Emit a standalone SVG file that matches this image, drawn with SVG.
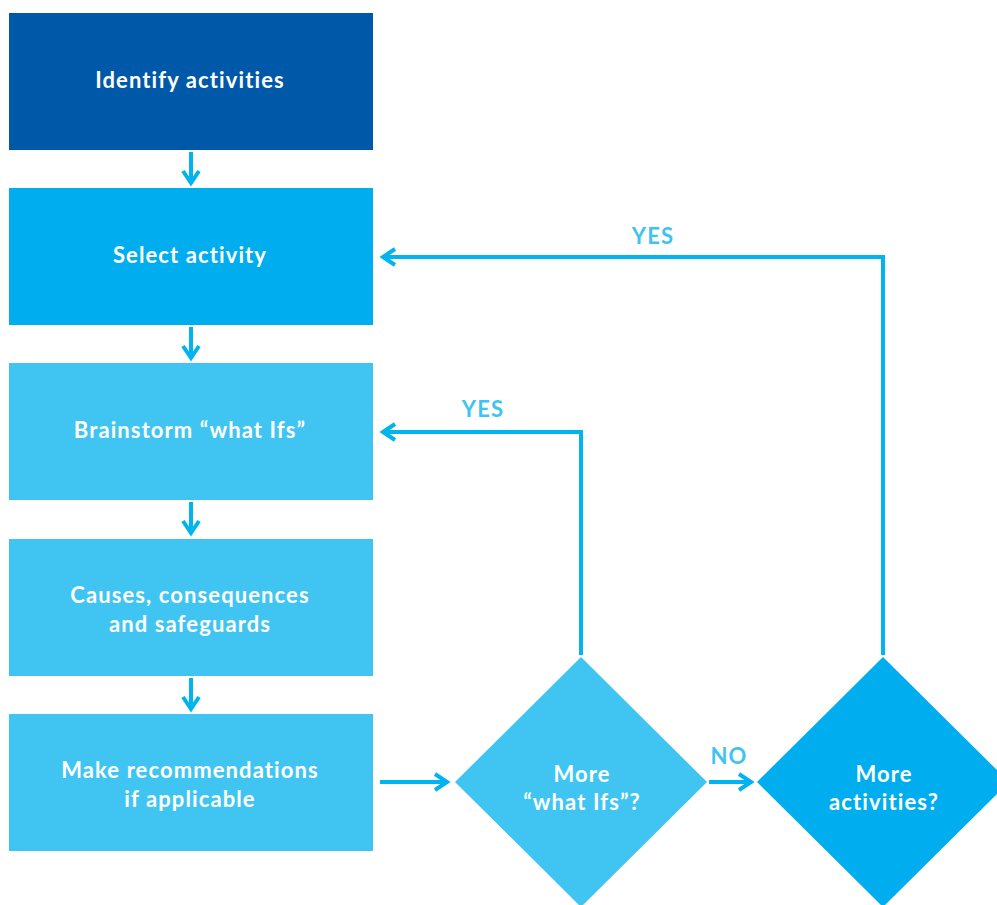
<svg xmlns="http://www.w3.org/2000/svg" width="997" height="905" viewBox="0 0 997 905">
<style>
.t{font-family:Lato,"Open Sans","Liberation Sans",sans-serif;font-weight:bold;font-size:22px;letter-spacing:1.1px;fill:#ffffff;text-anchor:middle}
.l{font-family:Lato,"Open Sans","Liberation Sans",sans-serif;font-weight:bold;font-size:22px;letter-spacing:1.1px;fill:#3fc3f2;text-anchor:middle}
.c{fill:none;stroke:#00b4ef;stroke-width:4}
</style>
<defs>
<marker id="ah" viewBox="0 0 10 10" refX="8" refY="5" markerWidth="5" markerHeight="5" markerUnits="strokeWidth" orient="auto">
<path d="M2,1 L8,5 L2,9" fill="none" stroke="#00b4ef" stroke-width="2"/>
</marker>
</defs>
<rect width="997" height="905" fill="#ffffff"/>
<g id="n1"><rect x="9" y="13" width="364" height="137" fill="#0059a8"/><text class="t" x="190" y="88">Identify activities</text></g>
<g id="n2"><rect x="9" y="188" width="364" height="137" fill="#00aeef"/><text class="t" x="190" y="263">Select activity</text></g>
<g id="n3"><rect x="9" y="363" width="364" height="137" fill="#40c5f3"/><text class="t" x="190" y="438">Brainstorm “what Ifs”</text></g>
<g id="n4"><rect x="9" y="539" width="364" height="137" fill="#40c5f3"/><text class="t" x="190" y="603">Causes, consequences</text><text class="t" x="190" y="632">and safeguards</text></g>
<g id="n5"><rect x="9" y="714" width="364" height="137" fill="#40c5f3"/><text class="t" x="190" y="778">Make recommendations</text><text class="t" x="190" y="807">if applicable</text></g>
<g id="d1"><polygon points="581,657 707,782 581,907 455,782" fill="#40c5f3"/><text class="t" x="582" y="782">More</text><text class="t" x="582" y="810">“what Ifs”?</text></g>
<g id="d2"><polygon points="883,657 1009,782 883,907 757,782" fill="#00aeef"/><text class="t" x="884" y="782">More</text><text class="t" x="884" y="810">activities?</text></g>
<g id="connectors">
<line class="c" x1="191" y1="152" x2="191" y2="183" marker-end="url(#ah)"/>
<line class="c" x1="191" y1="327" x2="191" y2="358" marker-end="url(#ah)"/>
<line class="c" x1="191" y1="502" x2="191" y2="533" marker-end="url(#ah)"/>
<line class="c" x1="191" y1="678" x2="191" y2="709" marker-end="url(#ah)"/>
<line class="c" x1="380" y1="782" x2="447" y2="782" marker-end="url(#ah)"/>
<line class="c" x1="709" y1="782" x2="751" y2="782" marker-end="url(#ah)"/>
<polyline class="c" points="581,655 581,432 383,432" marker-end="url(#ah)"/>
<polyline class="c" points="883,655 883,257 383,257" marker-end="url(#ah)"/>
<text class="l" x="653" y="244">YES</text>
<text class="l" x="483" y="417">YES</text>
<text class="l" x="729" y="764">NO</text>
</g>
</svg>
